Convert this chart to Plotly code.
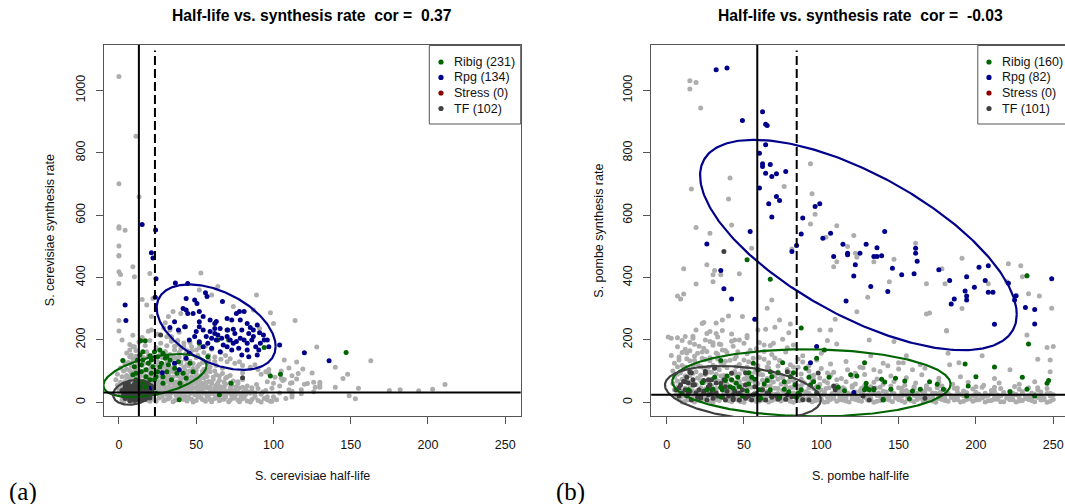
import numpy as np
import plotly.graph_objects as go

W, H = 1065, 504

# ---------------- S. cerevisiae (half-life, synthesis rate) ----------------
cer_other = [
    # low band
    (2,8),(5,14),(8,4),(11,10),(14,6),(17,12),(20,3),(23,9),(26,14),(29,5),(32,11),(35,2),(38,8),(41,13),(44,4),
    (47,10),(50,6),(53,15),(56,3),(59,9),(62,12),(65,5),(68,10),(71,2),(74,13),(77,7),(80,11),(83,4),(86,9),(90,6),
    (94,12),(98,3),(102,8),
    (1,24),(4,20),(7,28),(10,22),(13,26),(16,21),(19,29),(22,23),(25,27),(28,20),(31,25),(34,30),(37,22),(40,26),
    (43,19),(46,28),(49,24),(52,21),(55,29),(58,23),(61,27),(64,20),(67,25),(70,30),(73,22),(76,27),(79,19),(82,25),
    (85,29),(88,21),(92,26),(96,18),
    (0,40),(3,36),(6,44),(9,38),(12,42),(15,35),(18,45),(21,39),(24,43),(27,36),(30,41),(33,46),(36,38),(39,43),
    (42,35),(45,40),(48,45),(51,37),(54,42),(57,46),(60,36),(63,41),(66,44),(69,37),(72,43),(75,39),(78,46),(82,40),
    (86,36),(90,44),(95,38),
    (-1,55),(3,51),(6,59),(9,53),(12,60),(15,52),(18,57),(21,62),(24,54),(27,58),(30,51),(33,61),(36,55),(39,59),
    (42,50),(45,56),(48,62),(51,53),(54,58),(57,51),(60,60),(63,55),(66,50),(69,58),(73,54),(77,61),(83,52),(89,57),
    (-2,72),(4,67),(7,76),(10,70),(13,78),(16,68),(19,74),(22,80),(25,69),(28,75),(31,71),(34,79),(37,66),(40,73),
    (43,78),(46,68),(49,75),(52,70),(55,79),(58,67),(61,74),(65,71),(69,77),(74,68),(80,73),
    (-1,90),(5,86),(8,95),(11,88),(14,98),(17,85),(20,92),(23,97),(26,87),(29,94),(32,89),(35,99),(38,86),(41,93),
    (44,88),(47,96),(50,90),(53,85),(56,94),(59,98),(63,88),(67,92),(72,86),
    (1,110),(5,106),(8,116),(11,108),(15,118),(18,105),(21,113),(24,119),(27,107),(30,114),(33,110),(36,118),
    (39,105),(42,112),(45,117),(48,108),(51,115),(55,106),(59,113),(63,118),(67,109),
    (3,132),(6,128),(9,140),(12,130),(16,143),(19,127),(22,137),(25,131),(28,144),(31,126),(34,135),(37,141),
    (40,129),(43,138),(46,132),(50,144),(54,128),(58,136),(62,131),
    (5,158),(8,152),(11,166),(14,155),(18,162),(21,150),(24,169),(27,157),(30,163),(33,153),(36,168),(39,160),
    (43,155),(47,165),(51,151),
    (7,185),(10,178),(13,193),(17,182),(20,198),(24,176),(27,189),(31,181),(34,196),(38,185),(42,178),(46,192),
    (9,215),(15,208),(19,228),(25,218),(29,238),(34,210),(39,225),
    # in-between points of the dense cloud
    (3,2),(6,9),(9,16),(12,3),(15,18),(18,7),(21,16),(24,3),(27,18),(30,8),(33,16),(36,6),(39,17),(42,9),(45,15),
    (48,1),(51,18),(54,9),(57,17),(60,2),(63,16),(66,9),(69,17),(72,7),(75,18),(78,2),(81,15),(85,1),(88,16),
    (92,1),(96,8),
    (2,32),(5,34),(8,31),(11,33),(14,30),(17,34),(20,32),(23,35),(26,31),(29,33),(32,30),(35,34),(38,32),(41,31),
    (44,34),(47,32),(50,31),(53,33),(56,30),(59,34),(62,32),(65,31),(68,33),(71,30),(74,34),(77,32),(80,31),
    (84,33),(88,30),(93,33),
    (2,47),(5,49),(8,47),(11,49),(14,48),(17,47),(20,50),(23,48),(26,47),(29,49),(32,48),(35,47),(38,50),(41,48),
    (44,47),(47,50),(50,48),(53,47),(56,49),(59,48),(62,47),(65,49),(68,48),(72,47),(76,50),(80,48),(86,47),
    (1,64),(5,63),(8,65),(11,62),(14,64),(17,63),(20,65),(23,62),(26,64),(29,63),(32,65),(35,62),(38,64),(41,63),
    (44,65),(47,62),(50,64),(53,63),(56,64),(60,66),(64,63),(68,65),(72,62),(77,66),
    (2,82),(5,80),(8,83),(11,81),(14,84),(17,80),(20,83),(23,81),(26,84),(29,80),(32,83),(35,81),(38,84),(41,80),
    (44,83),(47,81),(50,84),(53,80),(57,83),(61,81),(65,84),(70,81),
    (3,100),(7,102),(10,99),(13,102),(16,100),(19,103),(22,100),(25,102),(28,100),(31,103),(34,100),(37,102),
    (40,99),(43,102),(46,100),(50,102),(54,99),(58,103),(62,100),
    (4,122),(8,124),(12,121),(16,124),(20,121),(24,124),(28,121),(32,124),(36,121),(40,124),(44,121),(48,124),
    (52,121),(57,124),
    (7,146),(11,148),(15,145),(19,148),(23,145),(27,148),(31,145),(35,148),(39,145),(43,148),
    # right shoulder of the cloud
    (100,18),(104,30),(108,12),(112,25),(99,45),(104,52),(110,40),(96,66),(101,80),(106,70),(92,90),(97,105),
    (88,120),(85,108),(80,95),(78,130),(72,140),(69,150),(66,160),(60,170),(56,180),(52,175),
    (97,93),(100,61),(105,77),(111,61),(112,35),(99,3),
    (34,205),(38,198),(42,190),(36,180),(40,172),(44,165),(47,178),(50,168),(55,160),(58,150),(62,145),(66,138),
    (70,130),(75,125),(80,118),(85,112),(90,105),(95,98),(105,100),(110,110),(112,85),(116,92),
    # sparse points
    (0,1045),(11,853),(0,701),(13,659),(0,563),(0,558),(4,552),(0,501),(0,471),(0,469),(0,419),(1,410),(0,381),
    (9,435),(10,403),(20,413),(15,330),(18,312),(21,275),(21,232),(0,262),(0,229),(2,200),(7,168),(9,178),
    (53,415),(89,344),(98,287),(114,262),(30,255),(33,232),(31,210),(35,291),(40,285),(52,360),(60,344),(64,371),
    (74,307),(87,296),(91,237),(100,253),(22,333),(32,275),
    (128,177),(107,136),(115,129),(119,107),(125,94),(107,73),(115,75),(112,63),(120,58),(122,60),(126,64),
    (130,64),(130,56),(127,48),(130,48),(118,40),(118,27),(126,34),(112,17),(140,112),(145,76),(148,90),(140,48),
    (149,21),(153,11),(155,45),(163,133),(175,38),(182,40),(194,37),(203,42),(211,57),
]

cer_tf = [
    (3,30),(5,22),(5,40),(6,15),(7,33),(7,50),(8,25),(8,44),(9,12),(9,36),(10,58),(10,28),(11,18),(11,46),(12,38),
    (12,8),(13,25),(13,55),(14,33),(14,15),(15,44),(15,22),(16,62),(16,30),(17,10),(17,50),(18,38),(19,20),(19,28),
    (20,45),(6,55),(4,48),(2,38),(21,33),(7,5),(11,66),(9,20),(13,42),(15,35),(5,30),(10,48),(18,58),(4,12),
    (3,20),(5,35),(6,25),(8,16),(8,38),(9,52),(10,6),(11,40),(12,30),(13,48),(14,20),(15,8),(16,50),(17,40),
    (18,26),(19,46),(20,14),(21,52),(6,62),(12,58),(14,60),(4,58),
    (27,216),(80,79),
]

cer_ribig = [
    (14,197),(17,197),(2.5,134),(13.5,152),(15.5,136),(20,149),(23,162),(26.5,168),(28.5,157),(31,146),(33,136),
    (36,109),(43,242),(46,125),(52,189),(57.5,146),(64,200),(70.5,232),(71,200),(94,176),(98,84),(104.5,90),
    (72.5,61),(65,24),(39,8),(24,29),(17.5,104),(22,114),(25,98),(28.5,82),(17.5,82),(20,72),(14.5,120),(10,114),
    (11,93),(15.5,66),(23,72),(27.5,125),(31,98),(34,72),(41.5,93),(43.5,77),(32,120),(30,141),(25,146),(19,125),
    (12,136),(14.5,98),(21,93),(24,82),(28.5,61),(38.5,130),(39.5,61),(48,98),(9,88),(17.5,50),(22,45),(13.5,50),
    (11,72),(15.5,162),(21,136),(26.5,114),(37.5,93),(147,160),
]

cer_rpg = [
    (21,480),(22,463),(4,312),(4.5,262),(36.5,383),(44.5,381),(41.5,301),(43.5,333),(49,328),(50.5,317),(56,351),
    (57,339),(67,323),(43.5,296),(44.5,285),(48,285),(52,291),(54.5,275),(52,258),(59,264),(62,253),(63,259),
    (70,269),(73,264),(76,285),(78,291),(81,291),(78.5,264),(83,253),(85,240),(87,232),(89.5,248),(91,223),
    (93.5,216),(94,200),(97,178),(104,184),(52,242),(54.5,232),(59,227),(56.5,211),(62,221),(64,216),(66.5,205),
    (70,211),(72,200),(74,189),(76,195),(78.5,205),(81,200),(83,189),(86,200),(88.5,178),(90.5,168),(70,178),
    (67.5,184),(63,200),(60,205),(57.5,189),(54.5,178),(52,194),(36,258),(33,240),(38.5,232),(42.5,242),(50,227),
    (49,211),(45.5,200),(74,234),(75,221),(79.5,232),(84,221),(87,211),(83,168),(79.5,152),(84,146),(89.5,152),
    (91.5,189),(96,200),(45.5,157),(43.5,141),(36,125),(28,95),(21,47),(39,104),(60,173),(65.5,162),(73,168),
    (77.5,173),(70,232),(65.5,237),(62,237),(120,159),(136,133),(15,570),(23.7,553),(24,396),(23.5,337),
]

# ---------------- S. pombe (half-life, synthesis rate) ----------------
pom_other = [
    (8,10),(12,4),(16,14),(20,7),(24,12),(28,3),(32,9),(36,15),(40,6),(44,11),(48,2),(52,13),(56,8),(60,4),(64,12),
    (68,6),(72,15),(76,9),(80,3),(84,11),(88,7),(92,14),(96,5),(100,10),(104,2),(108,13),(112,8),(116,4),(120,12),
    (124,6),(128,15),(132,9),(136,3),(140,11),(144,7),(148,14),(152,5),(156,10),(160,2),(164,13),(168,8),(172,4),
    (176,12),(180,6),(184,15),(188,9),(192,3),(196,11),(200,7),(204,14),(208,5),(212,10),(216,2),(220,13),(224,8),
    (228,4),(232,12),(236,6),(240,15),(244,9),(248,3),
    (6,24),(10,19),(14,28),(18,22),(22,26),(26,18),(30,29),(34,21),(38,25),(42,30),(46,19),(50,27),(54,23),(58,18),
    (62,28),(66,22),(70,26),(74,20),(78,29),(82,24),(86,18),(90,27),(94,21),(98,30),(102,25),(106,19),(110,28),
    (114,22),(118,26),(122,18),(126,29),(130,23),(134,27),(138,20),(142,25),(146,30),(150,19),(154,24),(158,28),
    (162,21),(166,26),(170,18),(174,29),(178,23),(182,27),(186,20),(190,25),(194,30),(198,21),(202,26),(206,19),
    (210,28),(214,23),(218,27),(222,20),(226,25),(230,29),(234,22),(238,26),(242,19),(246,28),(250,24),
    (5,40),(10,35),(15,46),(20,38),(25,43),(30,34),(35,47),(40,39),(45,44),(50,36),(55,48),(60,41),(65,35),(70,45),
    (75,38),(80,47),(85,42),(90,34),(95,44),(100,39),(105,47),(110,36),(115,43),(120,48),(125,37),(130,42),
    (135,46),(140,35),(145,41),(150,47),(155,38),(160,44),(165,36),(170,42),(175,47),(180,39),(186,45),(192,36),
    (198,43),(204,48),(210,38),(216,44),(222,35),(228,42),(234,47),(240,39),(246,44),
    (4,60),(9,54),(14,66),(19,57),(24,63),(29,53),(34,67),(39,58),(44,64),(49,55),(54,68),(59,60),(64,53),(69,65),
    (74,58),(79,67),(84,55),(89,62),(94,68),(99,57),(104,63),(110,54),(116,66),(122,59),(128,52),(134,64),
    (140,58),(147,67),(154,55),(161,62),(168,53),(176,66),(185,58),(195,64),(205,55),(215,62),(228,58),(238,66),
    (5,80),(10,74),(15,86),(20,78),(25,89),(30,73),(35,84),(40,77),(45,88),(50,75),(55,83),(60,90),(65,76),(70,85),
    (75,79),(81,88),(87,74),(93,84),(99,78),(106,87),(113,76),(120,83),(128,89),(136,75),(145,84),(155,79),
    (165,88),(176,77),(190,82),(212,76),
    (4,100),(9,95),(14,107),(19,98),(24,110),(29,96),(34,104),(39,111),(44,99),(49,106),(54,94),(60,103),(66,110),
    (72,97),(78,105),(85,112),(92,100),(100,108),(108,96),(117,104),(127,111),(138,99),(150,107),
    (5,125),(10,118),(15,133),(20,122),(25,137),(30,119),(35,128),(41,135),(47,121),(53,130),(59,117),(66,127),
    (73,134),(80,120),(88,129),(97,136),(106,123),(116,131),
    (3,150),(8,145),(13,158),(18,148),(23,161),(28,143),(33,154),(39,160),(45,147),(52,156),(60,144),(68,153),
    (77,161),(88,149),(100,157),
    (7,178),(12,170),(18,186),(24,173),(30,183),(36,168),(43,180),(50,189),(58,172),(67,182),(78,175),
    (3,205),(10,198),(17,212),(25,200),(33,209),(42,196),(52,207),
    # in-between points of the low band and the cloud
    (10,1),(14,8),(18,1),(22,5),(26,9),(30,1),(34,6),(38,10),(42,2),(46,7),(50,0),(54,9),(58,3),(62,7),(66,1),
    (70,10),(74,4),(78,8),(82,0),(86,6),(90,10),(94,2),(98,7),(102,0),(106,9),(110,3),(114,7),(118,1),(122,9),
    (126,3),(130,7),(134,0),(138,6),(142,10),(146,2),(150,8),(154,0),(158,6),(162,9),(166,2),(170,7),(174,0),
    (178,9),(182,3),(186,7),(190,1),(194,9),(198,3),(202,8),(206,1),(210,6),(214,10),(218,2),(222,8),(226,1),
    (230,6),(234,9),(238,2),(242,7),(246,0),(250,9),
    (8,16),(12,22),(16,17),(20,21),(24,15),(28,23),(32,17),(36,20),(40,14),(44,22),(48,16),(52,20),(56,15),(60,22),
    (64,17),(68,20),(72,14),(76,22),(80,17),(84,21),(88,15),(92,20),(96,16),(100,22),(104,15),(108,21),(112,17),
    (116,15),(120,22),(124,16),(128,20),(132,14),(136,22),(140,17),(144,21),(148,15),(152,20),(156,17),(160,22),
    (164,15),(168,21),(172,16),(176,20),(180,14),(184,22),(188,17),(192,21),(196,15),(200,20),(204,16),(208,22),
    (212,15),(216,20),(220,17),(224,22),(228,15),(232,20),(236,16),(240,22),(244,14),(248,20),
    (7,32),(12,29),(17,35),(22,31),(27,28),(32,36),(37,30),(42,34),(47,28),(52,33),(57,30),(62,36),(67,31),(72,28),
    (77,34),(82,30),(87,36),(92,29),(97,33),(102,31),(107,28),(112,35),(117,30),(122,33),(127,29),(132,35),
    (137,30),(142,33),(147,28),(152,34),(157,31),(162,29),(167,35),(172,30),(177,33),(182,28),(188,34),(194,30),
    (200,32),(206,29),(212,35),(218,31),(224,28),(230,34),(236,30),(242,33),(248,29),
    (7,49),(12,45),(17,52),(22,47),(27,50),(32,44),(37,51),(42,48),(47,53),(52,45),(57,50),(62,47),(67,52),(72,44),
    (77,50),(82,48),(87,53),(92,46),(97,51),(103,44),(108,50),(114,47),(120,53),(126,45),(132,50),(138,48),
    (145,52),(152,45),(160,50),(168,47),(178,52),(188,46),(200,50),(212,48),(225,51),(240,47),
    (7,68),(12,72),(17,64),(22,70),(27,66),(32,73),(37,64),(42,70),(47,67),(52,73),(57,65),(62,71),(67,68),(72,74),
    (77,63),(82,70),(88,66),(95,73),(102,68),(110,72),
    (7,90),(12,84),(17,93),(22,87),(27,96),(32,90),(37,86),(42,94),(47,91),(52,85),(57,96),(62,88),(68,93),(74,87),
    (80,95),(87,91),(95,87),(104,94),
    (7,114),(12,112),(17,117),(22,115),(27,112),(32,113),(37,118),(45,114),(52,112),(58,116),(65,113),(72,116),
    (82,113),(92,117),
    (8,136),(13,140),(18,134),(23,141),(28,133),(33,139),(38,132),(44,140),(50,136),(56,141),(63,138),(70,142),
    (85,139),
    (10,160),(15,165),(20,157),(26,163),(32,158),(38,166),(46,162),(54,167),(63,163),
    (15,192),(21,180),(28,195),(35,185),(47,200),(60,192),
    # sparse points
    (15,1031),(19,1026),(15,1005),(22,944),(16,684),(41,719),(40,652),(42,569),(19,561),(28,542),(93,765),
    (94,669),(96,603),(76,692),(93,572),(110,566),(103,529),(121,535),(117,500),(161,510),(55,494),(81,492),
    (11,428),(7,341),(11,347),(19,379),(26,441),(31,423),(30,409),(30,387),(35,409),(47,412),(24,256),(28,227),
    (19,232),(32,254),(36,264),(40,277),(44,200),(49,275),(59,232),(65,302),(68,328),(73,264),(80,251),(110,451),
    (108,435),(109,266),(122,478),(123,465),(134,451),(144,387),(147,459),(168,380),(170,286),(178,428),(181,229),
    (191,462),(180,380),(208,380),(220,387),(221,444),(229,438),(230,403),(233,405),(241,341),(234,348),(249,302),
    (250,179),(248,136),(130,337),(123,290),(131,200),(147,195),(168,283),(181,230),(182,157),(191,301),(183,120),
    (189,127),(204,149),(233,216),(246,176),(240,138),(248,98),(222,104),(9,331),(23,253),(1,209),(7,207),(12,211),
    (17,205),(26,221),(32,221),(36,230),(42,219),(30,191),(34,187),(52,214),(64,234),(70,241),(79,223),(63,184),
    (69,189),(75,202),(82,184),(99,232),(106,232),(104,198),(110,187),(132,149),(140,125),(143,117),(150,127),
    (153,127),(155,149),(159,104),(164,120),(167,109),(134,104),(125,112),(122,93),
]

pom_tf = [
    (16,95),(24,70),(13,80),(12,40),(21,40),(26,7),(30,13),(38,7),(43,13),(51,13),(55,7),(64,7),(72,10),(77,10),
    (31,109),(42,93),(51,95),(38,50),(27,50),(18,56),(9,56),(13,20),(20,16),(24,29),(29,27),(33,20),(40,20),(46,27),
    (53,20),(58,27),(60,18),(49,40),(57,50),(66,29),(71,20),(81,18),(92,7),(109,40),(108,52),(78,98),(25,93),(16,7),
    (8,20),(17,72),(29,72),(51,56),(36,16),(22,20),(68,16),(12,66),(47,7),(127,20),(134,44),(131,7),(140,10),
    (167,13),(37,484),(35,60),(44,36),(62,40),(14,30),(86,25),(6,40),
    (15,96),(25,99),(11,67),(14,62),(17,56),(27,72),(28,56),(32,62),(37,72),(15,35),(19,30),(24,35),(27,24),
    (29,40),(32,30),(36,19),(39,35),(43,24),(47,30),(52,19),(56,24),(60,19),(65,30),(68,19),(73,14),(78,24),
    (84,19),(88,8),(97,30),(98,94),(22,14),(43,8),(60,8),(10,30),(8,46),
]

pom_ribig = [
    (52,457),(67,395),(87,238),(233,406),(234,187),(193,123),(212,113),(200,82),(230,80),(247,70),(246,61),
    (238,20),(233,42),(222,34),(195,52),(194,20),(179,42),(128,127),(123,84),(119,88),(129,61),(129,48),(128,40),
    (131,40),(134,40),(139,74),(141,65),(145,42),(148,77),(154,68),(159,36),(157,11),(164,42),(170,66),(175,58),
    (140,7),(75,127),(56,125),(35,134),(31,80),(39,84),(42,72),(46,80),(47,50),(53,95),(55,80),(59,104),(65,70),
    (68,82),(72,95),(76,66),(80,82),(83,56),(85,29),(90,109),(92,80),(95,66),(98,48),(105,80),(111,48),(115,37),
    (102,168),(35,48),(36,40),(38,70),(23,63),(26,40),(30,42),(35,18),(43,45),(49,20),(52,37),(60,40),(61,13),
    (67,40),(73,18),(79,34),(84,16),(87,40),(14,40),(93,56),(63,59),(53,59),(45,61),(41,50),(57,74),(76,42),
    (82,95),(97,141),(67,98),
]

pom_rpg = [
    (32,1067),(39,1072),(49,904),(62,932),(64,892),(65,888),(64,826),(60,799),(62,765),(62,756),(67,763),(64,735),
    (71,733),(77,740),(68,724),(60,687),(66,637),(71,660),(73,647),(68,594),(88,591),(96,628),(99,637),(54,548),
    (87,540),(101,526),(106,542),(114,507),(129,507),(136,496),(141,548),(161,494),(26,508),(84,503),
    (108,468),(117,473),(117,478),(125,478),(121,405),(122,441),(134,468),(136,468),(139,470),(146,430),(152,409),
    (160,412),(162,452),(161,478),(132,371),(143,355),(116,325),(176,425),(183,391),(194,403),(199,369),(202,433),
    (206,391),(208,438),(221,382),(249,396),(42,331),(37,364),(35,423),(57,266),(81,484),(97,179),(93,127),
    (121,31),(184,315),(186,331),(193,357),(194,341),(194,328),(208,353),(211,353),(212,250),(226,342),(225,328),
    (232,304),(238,298),(238,251),
]

# data ellipses: group, centre x, centre y, half-width, half-height, correlation
cer_ellipses = [
    ("Ribig", 23.3, 85.7, 33.4, 69.2, 0.46),
    ("Rpg", 62.9, 241.0, 38.5, 137.0, -0.45),
    ("TF", 9.2, 32.0, 13.0, 40.0, 0.2),
]
pom_ellipses = [
    ("Ribig", 93.6, 62.5, 90.0, 107.5, -0.04),
    ("Rpg", 124.0, 504.5, 102.4, 337.5, -0.66),
    ("TF", 49.3, 31.5, 50.4, 85.0, -0.28),
]

# reference lines: solid x, dashed x, solid y
cer_refs = (12.9, 23.3, 31.0)
pom_refs = (58.6, 84.1, 24.5)

cer_cor = "0.37"
pom_cor = "-0.03"
cer_counts = {"Ribig": 231, "Rpg": 134, "Stress": 0, "TF": 102}
pom_counts = {"Ribig": 160, "Rpg": 82, "Stress": 0, "TF": 101}

group_colors = {"Ribig": "#006400", "Rpg": "#00008B", "Stress": "#8B0000", "TF": "#404040"}
other_color = "#ADADAD"

x_ticks = [0, 50, 100, 150, 200, 250]
y_ticks = [0, 200, 400, 600, 800, 1000]

FONT = "Liberation Sans, Arial, sans-serif"


def px_x(p):
    return p / W


def px_y(p):
    return 1 - p / H


fig = go.Figure()


def add_points(pts, color, xa, ya):
    xs = [p[0] for p in pts]
    ys = [p[1] for p in pts]
    fig.add_trace(go.Scatter(x=xs, y=ys, mode="markers", xaxis=xa, yaxis=ya,
                             marker=dict(size=5, color=color, line=dict(width=0)),
                             showlegend=False, hoverinfo="skip"))


def add_ellipse(e, xa, ya):
    name, cx, cy, rx, ry, rho = e
    t = np.linspace(0, 2 * np.pi, 361)
    d = np.arccos(rho)
    fig.add_trace(go.Scatter(x=cx + rx * np.cos(t), y=cy + ry * np.cos(t + d), mode="lines",
                             xaxis=xa, yaxis=ya, line=dict(color=group_colors[name], width=2.2),
                             showlegend=False, hoverinfo="skip"))


panels = [
    ("x", "y", cer_other, cer_tf, cer_ribig, cer_rpg, cer_ellipses),
    ("x2", "y2", pom_other, pom_tf, pom_ribig, pom_rpg, pom_ellipses),
]
for xa, ya, oth, tf, rib, rpg, ells in panels:
    add_points(oth, other_color, xa, ya)
    add_points(tf, group_colors["TF"], xa, ya)
    add_points(rib, group_colors["Ribig"], xa, ya)
    add_points(rpg, group_colors["Rpg"], xa, ya)
    for e in ells:
        add_ellipse(e, xa, ya)

shapes = []
for xa, ya, refs in (("x", "y", cer_refs), ("x2", "y2", pom_refs)):
    vx, dx, hy = refs
    shapes.append(dict(type="line", xref=xa, yref=ya + " domain", x0=vx, x1=vx, y0=0, y1=1,
                       line=dict(color="black", width=2)))
    shapes.append(dict(type="line", xref=xa, yref=ya + " domain", x0=dx, x1=dx, y0=0, y1=0.985,
                       line=dict(color="black", width=2, dash="9px,4px")))
    shapes.append(dict(type="line", xref=xa + " domain", yref=ya, x0=0, x1=1, y0=hy, y1=hy,
                       line=dict(color="black", width=2)))

annotations = []

# manual legends (box, coloured dot, label)
legend_specs = [(429.3, 441.0, 452.2, cer_counts), (977.8, 989.0, 1000.4, pom_counts)]
row_y = [62.0, 77.4, 93.0, 108.5]
for left, dot_x, text_x, counts in legend_specs:
    shapes.append(dict(type="rect", xref="paper", yref="paper", x0=px_x(left), x1=px_x(left + 91.4),
                       y0=px_y(124.0), y1=px_y(45.5), line=dict(color="#555555", width=1),
                       fillcolor="white", layer="above"))
    for (name, n), yy in zip(counts.items(), row_y):
        shapes.append(dict(type="circle", xref="paper", yref="paper", x0=px_x(dot_x - 2.6),
                           x1=px_x(dot_x + 2.6), y0=px_y(yy + 2.6), y1=px_y(yy - 2.6),
                           fillcolor=group_colors[name], line=dict(width=0), layer="above"))
        annotations.append(dict(xref="paper", yref="paper", x=px_x(text_x), y=px_y(yy),
                                xanchor="left", yanchor="middle", showarrow=False,
                                text=f"{name} ({n})", font=dict(family=FONT, size=12.5, color="#111")))

# titles and axis titles
titles = [
    (312.0, f"Half-life vs. synthesis rate  cor =  {cer_cor}", "S. cerevisiae half-life",
     50.7, "S. cerevisiae synthesis rate", 23.0, "(a)"),
    (860.0, f"Half-life vs. synthesis rate  cor =  {pom_cor}", "S. pombe half-life",
     599.2, "S. pombe synthesis rate", 570.0, "(b)"),
]
for cx, title, xt, ytx, yt, lx, lab in titles:
    annotations.append(dict(xref="paper", yref="paper", x=px_x(cx), y=px_y(15.5), xanchor="center",
                            yanchor="middle", showarrow=False, text=f"<b>{title}</b>",
                            font=dict(family=FONT, size=15.7, color="black")))
    annotations.append(dict(xref="paper", yref="paper", x=px_x(cx), y=px_y(475.5), xanchor="center",
                            yanchor="middle", showarrow=False, text=xt,
                            font=dict(family=FONT, size=12.5, color="#111")))
    annotations.append(dict(xref="paper", yref="paper", x=px_x(ytx), y=px_y(230.5), xanchor="center",
                            yanchor="middle", showarrow=False, text=yt, textangle=-90,
                            font=dict(family=FONT, size=12.5, color="#111")))
    annotations.append(dict(xref="paper", yref="paper", x=px_x(lx), y=px_y(492.0), xanchor="center",
                            yanchor="middle", showarrow=False, text=lab,
                            font=dict(family="Liberation Serif, DejaVu Serif, serif", size=25, color="black")))

axis_common = dict(showgrid=False, zeroline=False, showline=True, linecolor="#555555", linewidth=1,
                   ticks="outside", ticklen=7, tickwidth=1, tickcolor="#555555",
                   tickfont=dict(family=FONT, size=12.5, color="#111"))

y_dom = [(H - 416.0) / H, (H - 45.0) / H]
fig.update_layout(
    width=W, height=H, margin=dict(l=0, r=0, t=0, b=0),
    paper_bgcolor="white", plot_bgcolor="white", showlegend=False,
    xaxis=dict(domain=[103.5 / W, 520.7 / W], range=[-10, 260], tickvals=x_ticks, mirror=True,
               ticklabelstandoff=10, anchor="y", **axis_common),
    yaxis=dict(domain=y_dom, range=[-44, 1146], tickvals=y_ticks, mirror=True, tickangle=-90,
               ticklabelstandoff=6, anchor="x", **axis_common),
    xaxis2=dict(domain=[651.2 / W, 1.0], range=[-10, 257.6], tickvals=x_ticks, mirror=True,
                ticklabelstandoff=10, anchor="y2", **axis_common),
    yaxis2=dict(domain=y_dom, range=[-44, 1146], tickvals=y_ticks, mirror=False, tickangle=-90,
                ticklabelstandoff=6, anchor="x2", **axis_common),
    shapes=shapes, annotations=annotations,
)

fig.write_html("out.html")
